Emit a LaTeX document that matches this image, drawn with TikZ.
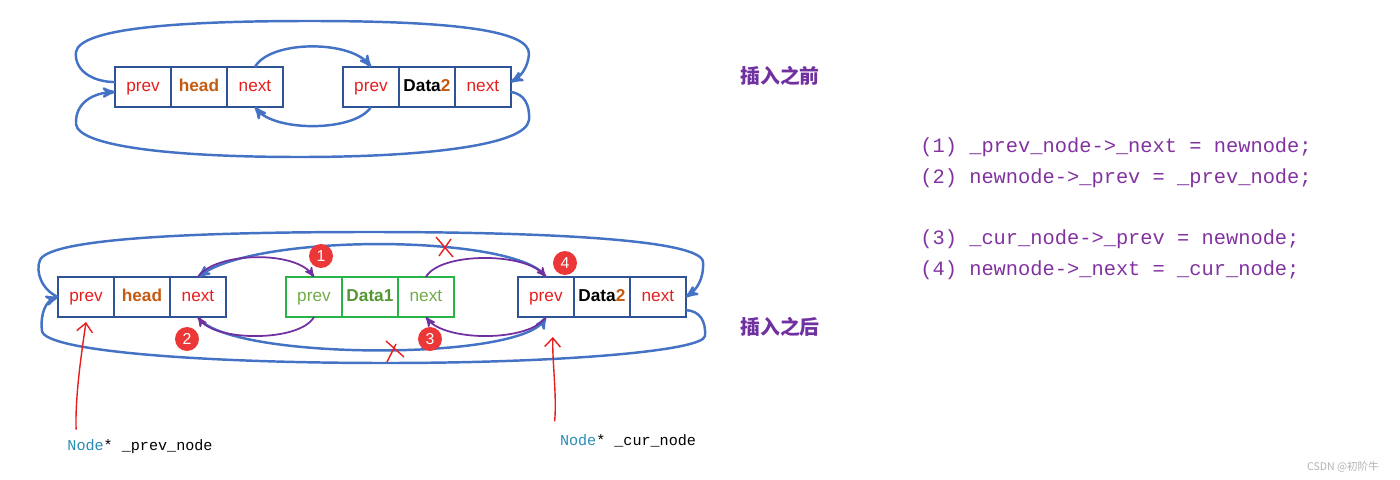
\documentclass[tikz,border=0pt]{standalone}
\usepackage{fontspec}
\setmainfont{Liberation Sans}
\setmonofont{Liberation Mono}
\newfontfamily\cjk{Noto Sans CJK SC}
\usetikzlibrary{positioning, arrows.meta, arrows}

\definecolor{cellblue}{RGB}{47,84,150}
\definecolor{linkblue}{RGB}{68,114,196}
\definecolor{newgreen}{RGB}{40,180,70}
\definecolor{txtgreen}{RGB}{112,173,71}
\definecolor{darkgreen}{RGB}{84,150,50}
\definecolor{ptrred}{RGB}{230,30,30}
\definecolor{headbrown}{RGB}{197,90,17}
\definecolor{arcpurple}{RGB}{112,48,160}
\definecolor{codepurple}{RGB}{130,50,160}
\definecolor{badgered}{RGB}{235,55,55}
\definecolor{typeteal}{RGB}{40,140,180}

\tikzset{
  cell/.style={draw=cellblue, line width=1.1pt, minimum width=1.12cm, minimum height=0.8cm,
    inner sep=0pt, outer sep=0pt, text height=7pt, text depth=2pt,
    font=\fontsize{9.8}{11}\selectfont},
  newcell/.style={cell, draw=newgreen},
  link/.style={->, draw=linkblue, line width=1.4pt},
  newlink/.style={->, draw=arcpurple, line width=1pt},
  badge/.style={circle, fill=badgered, text=white, minimum size=0.48cm, inner sep=0pt,
    font=\fontsize{9}{10}\selectfont},
  cutmark/.style={draw=ptrred, line width=0.8pt},
  pointer/.style={-{Straight Barb[length=5pt,width=9pt]}, draw=ptrred, line width=0.8pt},
  code/.style={anchor=west, text=codepurple, inner sep=0pt, font=\ttfamily\fontsize{11.6}{13}\selectfont},
  varlabel/.style={inner sep=0pt, font=\ttfamily\fontsize{8.6}{10}\selectfont},
  caption/.style={text=arcpurple, font=\cjk\bfseries\fontsize{11.3}{13}\selectfont}
}

\begin{document}
\begin{tikzpicture}[>=stealth', x=0.02cm, y=-0.02cm]
    \useasboundingbox (0,0) rectangle (1400,480);

    % before insertion
    \node[cell] (p1) at (143,87) {\color{ptrred}prev};
    \node[cell, right=0pt of p1] (h1) {\color{headbrown}\bfseries head};
    \node[cell, right=0pt of h1] (n1) {\color{ptrred}next};
    \node[cell, right=1.2cm of n1] (d2p) {\color{ptrred}prev};
    \node[cell, right=0pt of d2p] (d2) {\bfseries Data\color{headbrown}2};
    \node[cell, right=0pt of d2] (d2n) {\color{ptrred}next};

    \draw[link] (p1.170) .. controls (92,82) and (74,70) .. (76,52)
        .. controls (80,28) and (180,21) .. (310,21)
        .. controls (450,21) and (530,30) .. (529,54)
        .. controls (528,68) and (520,77) .. (d2n.10);
    \draw[link] (d2n.-10) .. controls (524,94) and (530,104) .. (529,120)
        .. controls (526,146) and (420,157) .. (300,157)
        .. controls (170,157) and (78,146) .. (76,124)
        .. controls (75,102) and (94,93) .. (p1.190);
    \draw[link] (n1.north) .. controls (270,40) and (350,40) .. (d2p.north);
    \draw[link] (d2p.south) .. controls (355,132) and (275,132) .. (n1.south);

    \node[caption] (before) at (780,76) {插入之前};

    % after insertion
    \node[cell] (p2) at (86,297) {\color{ptrred}prev};
    \node[cell, right=0pt of p2] (h2) {\color{headbrown}\bfseries head};
    \node[cell, right=0pt of h2] (n2) {\color{ptrred}next};
    \node[newcell, right=1.2cm of n2] (np) {\color{txtgreen}prev};
    \node[newcell, right=0pt of np] (nd) {\color{darkgreen}\bfseries Data1};
    \node[newcell, right=0pt of nd] (nn) {\color{txtgreen}next};
    \node[cell, right=1.28cm of nn] (cp) {\color{ptrred}prev};
    \node[cell, right=0pt of cp] (cd) {\bfseries Data\color{headbrown}2};
    \node[cell, right=0pt of cd] (cn) {\color{ptrred}next};

    \draw[link] (p2.west) .. controls (42,290) and (35,272) .. (40,260)
        .. controls (50,238) and (200,232) .. (370,232)
        .. controls (550,232) and (702,240) .. (703,262)
        .. controls (704,280) and (696,290) .. (cn.east);
    \draw[link] (cn.-25) .. controls (700,311) and (706,321) .. (705,336)
        .. controls (703,351) and (560,363) .. (386,363)
        .. controls (200,363) and (45,351) .. (42,331)
        .. controls (40,313) and (46,301) .. (p2.west);
    \draw[link] (cp.north) .. controls (520,235) and (260,232) .. (n2.north);
    \draw[link] (n2.south) .. controls (225,360) and (520,362) .. (cp.south);

    \draw[newlink] (n2.north) .. controls (215,252) and (295,250) .. (np.north);
    \draw[newlink] (np.south) .. controls (300,342) and (215,342) .. (n2.south);
    \draw[newlink] (nn.north) .. controls (440,252) and (525,252) .. (cp.north);
    \draw[newlink] (cp.south) .. controls (530,342) and (445,342) .. (nn.south);

    \node[badge] (b1) at (321,256) {1};
    \node[badge] (b2) at (187,339) {2};
    \node[badge] (b3) at (430,339) {3};
    \node[badge] (b4) at (565,263) {4};

    \coordinate (cut1) at (444,247);
    \coordinate (cut2) at (394,351);
    \draw[cutmark] (cut1) ++(-8,-10) -- ++(17,20) (cut1) ++(7,-8) -- ++(-12,17);
    \draw[cutmark] (cut2) ++(-8,-10) -- ++(18,16) (cut2) ++(2,-7) -- ++(-9,18);

    \node[caption] (after) at (780,327) {插入之后};

    % pointers
    \node[varlabel] (lp) at (140,447) {\color{typeteal}Node\color{black}* \_prev\_node};
    \node[varlabel] (lc) at (628,441) {\color{typeteal}Node\color{black}* \_cur\_node};
    \draw[pointer] ([shift={(0.18cm,0.2cm)}]lp.north west) .. controls (75,395) and (82,350) .. ([yshift=-0.1cm]p2.south);
    \draw[pointer] ([shift={(-0.1cm,0.26cm)}]lc.north west) .. controls (557,395) and (552,360) .. ([shift={(0.14cm,-0.4cm)}]cp.south);

    % code
    \node[code] (l1) at (920,147) {(1) \_prev\_node->\_next = newnode;};
    \node[code] (l2) at (920,178) {(2) newnode->\_prev = \_prev\_node;};
    \node[code] (l3) at (920,239) {(3) \_cur\_node->\_prev = newnode;};
    \node[code] (l4) at (920,270) {(4) newnode->\_next = \_cur\_node;};

    \node[text=gray!60, font=\cjk\fontsize{6}{7}\selectfont] (mark) at (1343,467) {CSDN @初阶牛};
\end{tikzpicture}
\end{document}
